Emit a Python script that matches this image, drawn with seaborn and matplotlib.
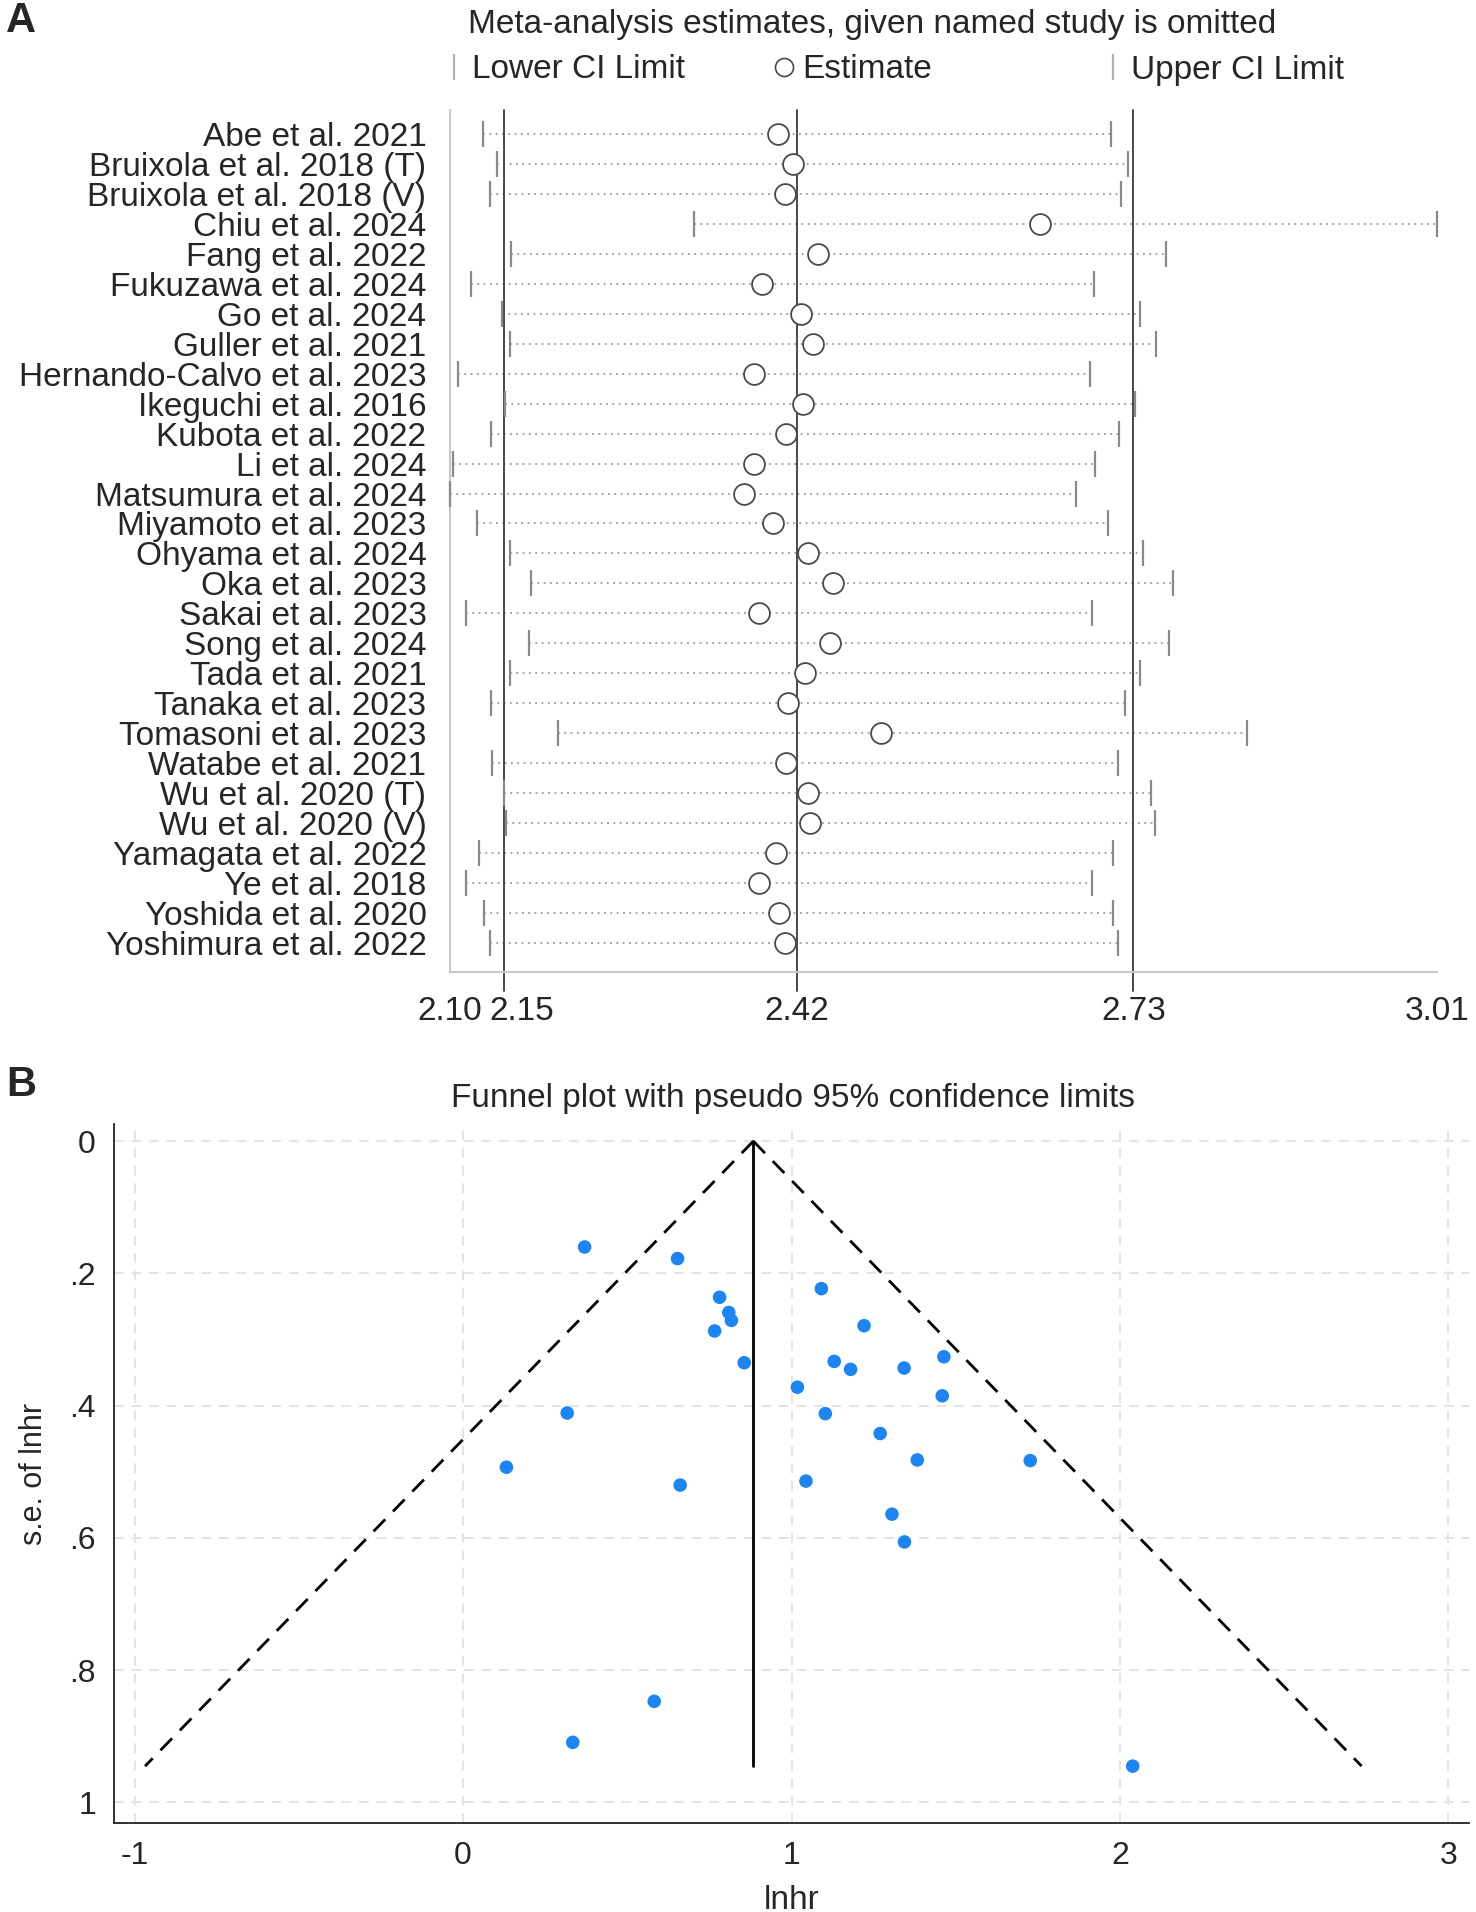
import numpy as np
import matplotlib
matplotlib.use("Agg")
import matplotlib.pyplot as plt
from matplotlib.lines import Line2D
from matplotlib.transforms import ScaledTranslation
import seaborn as sns

# ---- panel A data: leave-one-out estimates (HR scale) ----
studies = ["Abe et al. 2021", "Bruixola et al. 2018 (T)", "Bruixola et al. 2018 (V)",
           "Chiu et al. 2024", "Fang et al. 2022", "Fukuzawa et al. 2024", "Go et al. 2024",
           "Guller et al. 2021", "Hernando-Calvo et al. 2023", "Ikeguchi et al. 2016",
           "Kubota et al. 2022", "Li et al. 2024", "Matsumura et al. 2024",
           "Miyamoto et al. 2023", "Ohyama et al. 2024", "Oka et al. 2023",
           "Sakai et al. 2023", "Song et al. 2024", "Tada et al. 2021", "Tanaka et al. 2023",
           "Tomasoni et al. 2023", "Watabe et al. 2021", "Wu et al. 2020 (T)",
           "Wu et al. 2020 (V)", "Yamagata et al. 2022", "Ye et al. 2018",
           "Yoshida et al. 2020", "Yoshimura et al. 2022"]
lower = [2.130, 2.143, 2.137, 2.325, 2.156, 2.119, 2.148, 2.155, 2.107, 2.151,
         2.138, 2.103, 2.100, 2.125, 2.155, 2.175, 2.115, 2.173, 2.155, 2.138,
         2.200, 2.139, 2.150, 2.152, 2.127, 2.115, 2.131, 2.137]
estimate = [2.402, 2.416, 2.409, 2.644, 2.439, 2.388, 2.424, 2.435, 2.380, 2.425,
            2.410, 2.380, 2.371, 2.398, 2.430, 2.453, 2.385, 2.450, 2.427, 2.412,
            2.497, 2.410, 2.430, 2.432, 2.401, 2.385, 2.403, 2.409]
upper = [2.709, 2.725, 2.719, 3.010, 2.760, 2.694, 2.736, 2.751, 2.690, 2.732,
         2.717, 2.695, 2.677, 2.707, 2.739, 2.767, 2.692, 2.763, 2.736, 2.722,
         2.835, 2.716, 2.746, 2.750, 2.711, 2.692, 2.711, 2.716]
overall_lower = 2.15
overall_est = 2.42
overall_upper = 2.73

# ---- panel B data: funnel plot ----
lnhr = [0.370, 0.653, 1.091, 0.781, 0.809, 0.817, 1.221, 0.766, 1.464, 0.856,
        1.130, 1.180, 1.343, 1.018, 1.459, 0.317, 1.103, 1.270, 1.383, 1.727,
        0.132, 1.044, 0.661, 1.306, 1.344, 0.582, 0.334, 2.039]
se_lnhr = [0.160, 0.1775, 0.223, 0.236, 0.259, 0.271, 0.279, 0.287, 0.326, 0.335,
           0.333, 0.345, 0.343, 0.372, 0.385, 0.411, 0.412, 0.442, 0.482, 0.483,
           0.493, 0.514, 0.520, 0.564, 0.606, 0.847, 0.909, 0.945]

sns.set_theme(style="white")
plt.rcParams['font.family'] = ['Liberation Sans', 'DejaVu Sans']

W, H = 1476, 1912
fig = plt.figure(figsize=(W / 100, H / 100), dpi=100)

# ================= panel A =================
axA = fig.add_axes([450 / W, 1 - 972 / H, 987 / W, 862 / H])
ypos = np.arange(len(studies))

axA.hlines(ypos, lower, upper, colors='#9a9a9a', linestyles=(0, (1, 2.5)), lw=1.3, zorder=1)
for lim in [overall_lower, overall_est, overall_upper]:
    axA.axvline(lim, ymin=-0.022, ymax=1, color='#3a3a3a', lw=1.3, zorder=2, clip_on=False)
axA.scatter(lower, ypos, marker='|', s=19 ** 2, color='#8a8a8a', linewidths=1.6, zorder=3, clip_on=False)
axA.scatter(upper, ypos, marker='|', s=19 ** 2, color='#8a8a8a', linewidths=1.6, zorder=3, clip_on=False)
sns.scatterplot(x=estimate, y=ypos, ax=axA, marker='o', s=15 ** 2, facecolor='white',
                edgecolor='#4a4a4a', linewidth=1.3, zorder=4, clip_on=False)

axA.set_xlim(min(lower), max(upper))
axA.set_ylim(len(studies) - 0.03, -0.8)
xt = [min(lower), overall_lower, overall_est, overall_upper, max(upper)]
axA.set_xticks(xt)
axA.set_xticklabels(['%.2f' % v for v in xt])
axA.set_yticks(ypos)
axA.set_yticklabels(studies)
axA.tick_params(axis='x', length=13.5, width=1.3, color='#a8a8a8', labelsize=24, pad=4, direction='out')
axA.tick_params(axis='y', length=0, labelsize=24, pad=17)
for s in ['top', 'right']:
    axA.spines[s].set_visible(False)
for s in ['left', 'bottom']:
    axA.spines[s].set_color('#c8c8c8')
    axA.spines[s].set_linewidth(1.5)
axA.set_xlabel('')
axA.set_ylabel('')
# nudge the 2.15 label right so it does not run into 2.10
lab = axA.get_xticklabels()[1]
lab.set_transform(lab.get_transform() + ScaledTranslation(0.18, 0, fig.dpi_scale_trans))

leg_items = [
    (Line2D([], [], ls='none', marker='|', color='#b0b0b0', markersize=19, mew=1.6), 'Lower CI Limit', 454),
    (Line2D([], [], ls='none', marker='o', mfc='none', mec='#4a4a4a', markersize=13, mew=1.2), 'Estimate', 784),
    (Line2D([], [], ls='none', marker='|', color='#b0b0b0', markersize=19, mew=1.6), 'Upper CI Limit', 1113),
]
for h, txt, px in leg_items:
    lg = axA.legend([h], [txt], loc='center left',
                    bbox_to_anchor=((px - 10 - 450) / 987, 1 + 40 / 862),
                    frameon=False, fontsize=24, handlelength=0.6, handletextpad=0.25,
                    borderaxespad=0, borderpad=0)
    axA.add_artist(lg)
axA.legend_ = None  # each one is already added as an artist

fig.text(872 / W, 1 - 25 / H, 'Meta-analysis estimates, given named study is omitted',
         ha='center', va='center', fontsize=24)
fig.text(21 / W, 1 - 21 / H, 'A', ha='center', va='center', fontsize=30, fontweight='bold')

# ================= panel B =================
axB = fig.add_axes([114 / W, 1 - 1823 / H, 1355 / W, 699 / H])
theta = np.log(overall_est)
se_max = max(se_lnhr)
se_line = np.array([0, se_max])

axB.plot(theta - 1.96 * se_line, se_line, color='black', ls=(0, (6, 4)), lw=2)
axB.plot(theta + 1.96 * se_line, se_line, color='black', ls=(0, (6, 4)), lw=2)
axB.plot([theta, theta], se_line, color='black', lw=2)
sns.scatterplot(x=lnhr, y=se_lnhr, ax=axB, color='#1c84f3', s=95, edgecolor='none', zorder=3)

axB.set_xlim(-1.063, 3.063)
axB.set_ylim(1.031, -0.026)
axB.set_xticks([-1, 0, 1, 2, 3])
axB.set_xticklabels(['-1', '0', '1', '2', '3'])
axB.set_yticks([0, 0.2, 0.4, 0.6, 0.8, 1.0])
axB.set_yticklabels(['0', '.2', '.4', '.6', '.8', '1'])
axB.grid(True, color='#e4e4e4', ls=(0, (5, 4)), lw=1.4)
axB.set_axisbelow(True)
axB.tick_params(axis='both', length=9, width=1.2, color='black', labelsize=23, pad=4, direction='out')
for s in ['top', 'right']:
    axB.spines[s].set_visible(False)
for s in ['left', 'bottom']:
    axB.spines[s].set_color('#222222')
    axB.spines[s].set_linewidth(1.3)
axB.set_xlabel('lnhr', fontsize=24)
axB.set_ylabel('s.e. of lnhr', fontsize=22)
axB.xaxis.set_label_coords(0.5, -0.088)
axB.yaxis.set_label_coords(-0.048, 0.5)

fig.text(793 / W, 1 - 1098 / H, 'Funnel plot with pseudo 95% confidence limits',
         ha='center', va='center', fontsize=24)
fig.text(21 / W, 1 - 1085 / H, 'B', ha='center', va='center', fontsize=30, fontweight='bold')

fig.savefig('out.png', dpi=100)
